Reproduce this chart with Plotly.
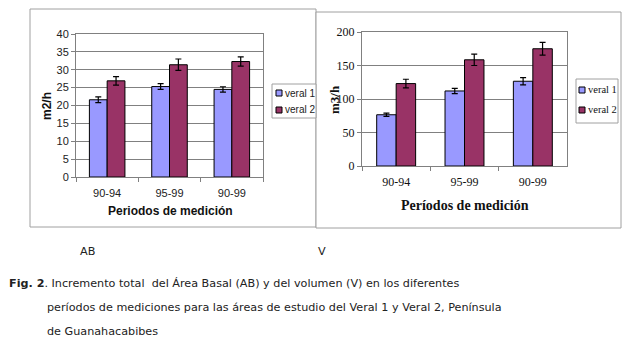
import plotly.graph_objects as go

categories = ["90-94", "95-99", "90-99"]
series_names = ["veral 1", "veral 2"]
ab_veral1 = [21.6, 25.3, 24.5]
ab_veral1_err = [0.8, 0.8, 0.75]
ab_veral2 = [26.9, 31.4, 32.3]
ab_veral2_err = [1.2, 1.6, 1.3]
v_veral1 = [76.5, 112, 126.5]
v_veral1_err = [2.5, 4, 5.5]
v_veral2 = [123, 158.5, 175]
v_veral2_err = [6.5, 8.5, 9.5]

W, H = 627, 343
def px(x): return x / W
def py(y): return 1 - y / H

c1, c2 = "#9999FF", "#993366"
colors = [c1, c2]
arial = "Liberation Sans, Arial"
times = "Liberation Serif, Times New Roman"

fig = go.Figure()
for name, vals, err, col in [(series_names[0], ab_veral1, ab_veral1_err, c1),
                             (series_names[1], ab_veral2, ab_veral2_err, c2)]:
    fig.add_trace(go.Bar(x=categories, y=vals, name=name, showlegend=False,
                         marker=dict(color=col, line=dict(color="black", width=1)),
                         error_y=dict(type="data", array=err, color="black", thickness=1.2, width=3),
                         xaxis="x", yaxis="y"))
for name, vals, err, col in [(series_names[0], v_veral1, v_veral1_err, c1),
                             (series_names[1], v_veral2, v_veral2_err, c2)]:
    fig.add_trace(go.Bar(x=categories, y=vals, name=name, showlegend=False,
                         marker=dict(color=col, line=dict(color="black", width=1)),
                         error_y=dict(type="data", array=err, color="black", thickness=1.2, width=3),
                         xaxis="x2", yaxis="y2"))

shapes = [
    dict(type="rect", xref="paper", yref="paper", x0=px(30), x1=px(316), y0=py(227), y1=py(9),
         line=dict(color="#A0A0A0", width=1), fillcolor="white", layer="below"),
    dict(type="rect", xref="paper", yref="paper", x0=px(316), x1=px(621), y0=py(228), y1=py(12),
         line=dict(color="#A0A0A0", width=1), fillcolor="white", layer="below"),
    # legend boxes
    dict(type="rect", xref="paper", yref="paper", x0=px(272), x1=px(316), y0=py(118), y1=py(84),
         line=dict(color="#A0A0A0", width=1), fillcolor="white"),
    dict(type="rect", xref="paper", yref="paper", x0=px(576), x1=px(618), y0=py(123), y1=py(79),
         line=dict(color="#A0A0A0", width=1), fillcolor="white"),
]
annots = []
# left legend entries
for i, (nm, col) in enumerate(zip(series_names, colors)):
    yc = 93 + i * 17
    shapes.append(dict(type="rect", xref="paper", yref="paper", x0=px(276), x1=px(282),
                       y0=py(yc + 3), y1=py(yc - 3), line=dict(color="black", width=1), fillcolor=col))
    annots.append(dict(text=nm, x=px(283), y=py(yc), xanchor="left", yanchor="middle",
                       font=dict(family=arial, size=10, color="#222")))
# right legend entries
for i, (nm, col) in enumerate(zip(series_names, colors)):
    yc = 90 + i * 20
    shapes.append(dict(type="rect", xref="paper", yref="paper", x0=px(579), x1=px(585),
                       y0=py(yc + 3), y1=py(yc - 3), line=dict(color="black", width=1), fillcolor=col))
    annots.append(dict(text=nm, x=px(586), y=py(yc), xanchor="left", yanchor="middle",
                       font=dict(family=times, size=10.5, color="#111")))

# axis titles
annots += [
    dict(text="<b>Periodos de medición</b>", x=px(170), y=py(211), xanchor="center", yanchor="middle",
         font=dict(family=arial, size=12, color="#111")),
    dict(text="<b>m2/h</b>", x=px(47), y=py(106), xanchor="center", yanchor="middle", textangle=-90,
         font=dict(family=arial, size=12, color="#111")),
    dict(text="<b>Períodos de medición</b>", x=px(465), y=py(206), xanchor="center", yanchor="middle",
         font=dict(family=times, size=14, color="#111")),
    dict(text="<b>m3/h</b>", x=px(334), y=py(100), xanchor="center", yanchor="middle", textangle=-90,
         font=dict(family=times, size=13, color="#111")),
]

axcommon = dict(showline=True, linecolor="#808080", mirror=True, ticks="outside", ticklen=4,
                tickcolor="#808080", automargin=False)
fig.update_layout(
    width=W, height=H, margin=dict(l=0, r=0, t=0, b=0, autoexpand=False),
    paper_bgcolor="white", plot_bgcolor="#C0C0C0",
    barmode="group", bargap=0.43, bargroupgap=0,
    shapes=shapes,
    xaxis=dict(domain=[px(76), px(263)], anchor="y", tickson="boundaries", ticklabelstandoff=6,
               tickfont=dict(family=arial, size=11, color="#222"), **axcommon),
    yaxis=dict(domain=[py(177), py(34)], anchor="x", range=[0, 40], dtick=5,
               gridcolor="#808080", gridwidth=1,
               tickfont=dict(family=arial, size=11, color="#222"), **axcommon),
    xaxis2=dict(domain=[px(362), px(567)], anchor="y2", tickson="boundaries", ticklabelstandoff=5,
                tickfont=dict(family=times, size=12, color="#111"), **axcommon),
    yaxis2=dict(domain=[py(166), py(32)], anchor="x2", range=[0, 200], dtick=50,
                gridcolor="#808080", gridwidth=1,
                tickfont=dict(family=times, size=12, color="#111"), **axcommon),
)

cap_font = dict(family="DejaVu Sans, Verdana", size=11.2, color="#222")
cap = [
    dict(text="AB", x=px(78), y=py(251), xanchor="left", yanchor="middle"),
    dict(text="V", x=px(316), y=py(251), xanchor="left", yanchor="middle"),
    dict(text="<b>Fig. 2</b>. Incremento total  del Área Basal (AB) y del volumen (V) en los diferentes",
         x=px(7), y=py(283), xanchor="left", yanchor="middle"),
    dict(text="períodos de mediciones para las áreas de estudio del Veral 1 y Veral 2, Península",
         x=px(45), y=py(307), xanchor="left", yanchor="middle"),
    dict(text="de Guanahacabibes", x=px(45), y=py(331), xanchor="left", yanchor="middle"),
]
for a in cap:
    a["font"] = cap_font
annots += cap
for a in annots:
    fig.add_annotation(xref="paper", yref="paper", showarrow=False, **a)

fig.write_html("out.html")
